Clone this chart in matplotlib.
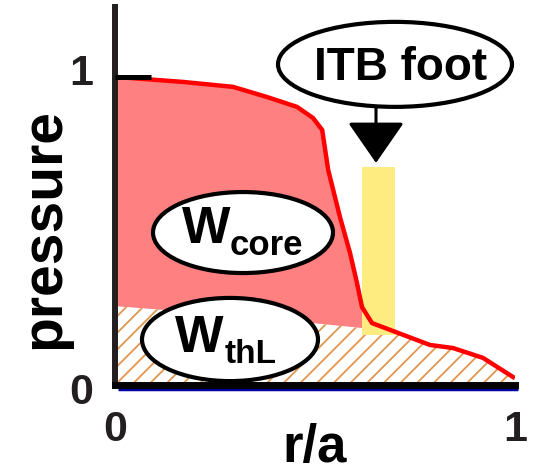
import numpy as np
import matplotlib
matplotlib.use("Agg")
from matplotlib import pyplot as plt
from matplotlib.patches import Ellipse
from matplotlib import transforms

plt.rcParams["font.family"] = ["Liberation Sans", "DejaVu Sans"]
plt.rcParams["font.weight"] = "bold"
plt.rcParams["axes.labelweight"] = "bold"
plt.rcParams["hatch.linewidth"] = 1.3

# pressure profile (r/a, pressure)
r = [0.005, 0.17, 0.295, 0.38, 0.455, 0.495, 0.518, 0.533, 0.5625,
     0.5875, 0.605, 0.6175, 0.6425, 0.6875, 0.7875, 0.845, 0.92, 0.995]
p = [1.0, 0.984, 0.968, 0.935, 0.903, 0.867, 0.828, 0.698, 0.545,
     0.429, 0.331, 0.253, 0.201, 0.179, 0.130, 0.120, 0.088, 0.026]

# pedestal line separating W_core from W_thL
r_ped = [0.0, 0.3, 0.6175]
p_ped = [0.256, 0.226, 0.185]

# ITB foot band
itb_left = 0.6175
itb_right = 0.70
itb_bottom = 0.162
itb_top = 0.708

r = np.array(r)
p = np.array(p)

fig = plt.figure(figsize=(5.35, 4.72), dpi=100)
ax = fig.add_axes([115 / 535, 87 / 472, 400 / 535, 378 / 472])
ax.set_xlim(0, 1)
ax.set_ylim(0, 378 / 308)
ax.set_axisbelow(False)  # ticks above the profile line

# W_core area (pink)
core = r <= r_ped[-1]
r_core = np.concatenate([[0.0], r[core]])
p_core = np.concatenate([[p[0]], p[core]])
ax.fill_between(r_core, np.interp(r_core, r_ped, p_ped), p_core,
                color="#FF8080", lw=0, zorder=1)

# W_thL area (hatched)
tail = r > 0.66
r_th = np.concatenate([r_ped, r[tail]])
p_th = np.concatenate([p_ped, p[tail]])
ax.fill_between(r_th, 0, p_th, facecolor="white", edgecolor="#E0964E",
                hatch="//", lw=0, zorder=1)

# ITB foot band
ax.bar(itb_left, itb_top - itb_bottom, width=itb_right - itb_left,
       bottom=itb_bottom, align="edge", color="#FFEC80", lw=0, zorder=1.5)

# profile
ax.plot(r, p, color="#FF0000", lw=3.2, zorder=2.2, solid_joinstyle="round")

# labels in ellipses
ell_kw = dict(facecolor="white", edgecolor="black", lw=3, zorder=4, clip_on=False)
ax.add_patch(Ellipse((0.70, 1.041), 0.585, 0.276, **ell_kw))
ax.add_patch(Ellipse((0.32, 0.495), 0.45, 0.263, **ell_kw))
ax.add_patch(Ellipse((0.2875, 0.1477), 0.44, 0.27, **ell_kw))

ax.text(0.715, 0.99, "ITB foot", fontsize=33, ha="center", va="baseline", zorder=5)
ax.text(0.1675, 0.461, "W", fontsize=37, ha="left", va="baseline", zorder=5)
ax.text(0.2875, 0.422, "core", fontsize=25, ha="left", va="baseline", zorder=5)
ax.text(0.15, 0.107, "W", fontsize=37, ha="left", va="baseline", zorder=5)
ax.text(0.275, 0.0714, "thL", fontsize=24, ha="left", va="baseline", zorder=5)

ax.annotate("", xy=(0.6525, 0.721), xytext=(0.6525, 0.903),
            arrowprops=dict(arrowstyle="-|>,head_length=2.6,head_width=1.8",
                            lw=2.2, color="black", shrinkA=0, shrinkB=0,
                            mutation_scale=10), zorder=5)

# axes styling
for s in ["top", "right"]:
    ax.spines[s].set_visible(False)
ax.spines["left"].set_linewidth(4.3)
ax.spines["left"].set_color("#231F20")
ax.spines["bottom"].set_linewidth(5)
ax.spines["bottom"].set_color("black")
ax.spines["bottom"].set_zorder(6)

shift = transforms.ScaledTranslation(0.025, -0.04, fig.dpi_scale_trans)
ax.plot([0, 1], [0, 0], color="#0000A0", lw=2.5, transform=ax.transAxes + shift,
        clip_on=False, zorder=5.5, solid_capstyle="butt")

ax.set_xticks([0, 1])
ax.set_xticklabels(["0", "1"])
ax.set_yticks([0, 1])
ax.set_yticklabels(["0", "1"])
ax.tick_params(axis="x", length=0, pad=18, labelsize=31, labelcolor="#231F20")
ax.tick_params(axis="y", direction="in", length=26, width=3.6, color="black",
               pad=16, labelsize=31, labelcolor="#231F20")

# nudge the y tick labels as in the original drawing
fig.canvas.draw()
for lab, dy in zip(ax.get_yticklabels(), [-0.03, 0.08]):
    lab.set_transform(lab.get_transform()
                      + transforms.ScaledTranslation(0, dy, fig.dpi_scale_trans))

ax.set_xlabel("r/a", fontsize=38)
ax.xaxis.set_label_coords(0.5, -0.1)
ax.set_ylabel("pressure", fontsize=41)
ax.yaxis.set_label_coords(-0.11, 0.414)

fig.savefig("out.png", dpi=100)
